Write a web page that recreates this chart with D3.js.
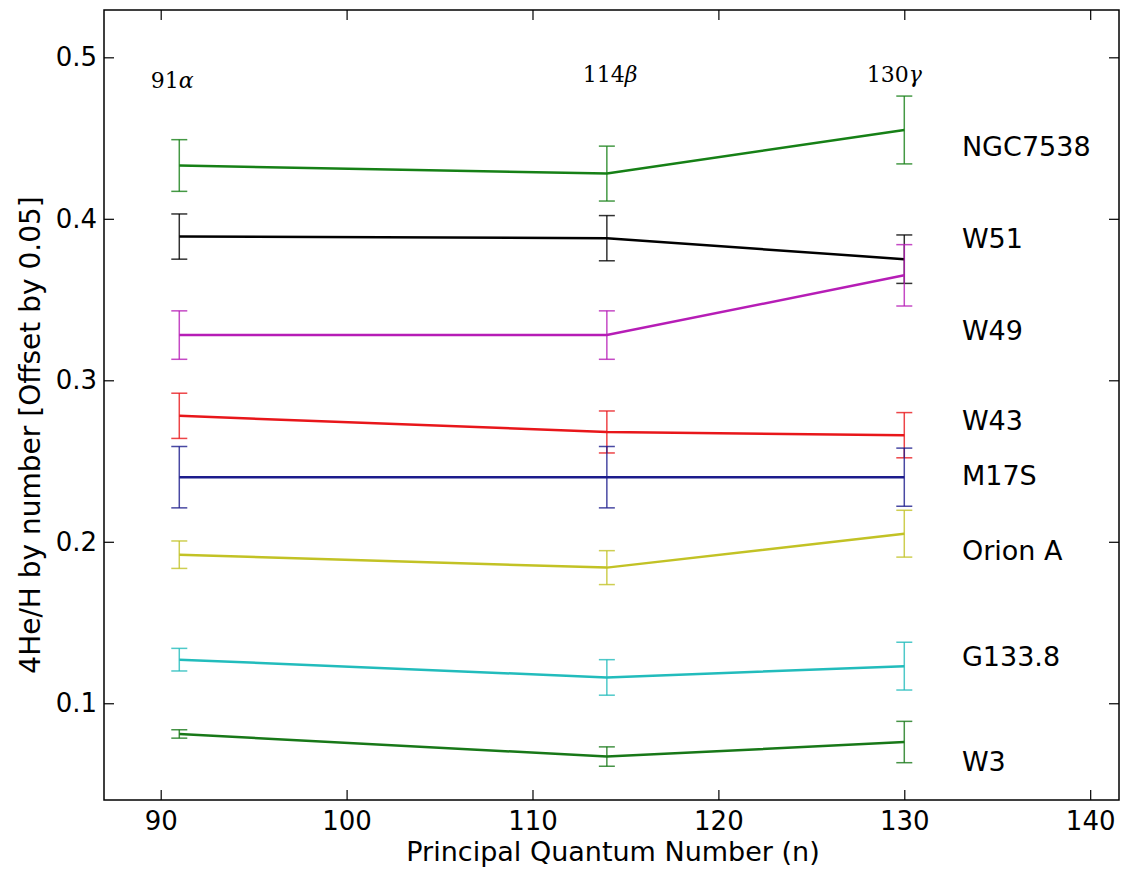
<!DOCTYPE html>
<html>
<head>
<meta charset="utf-8">
<script src="https://cdn.jsdelivr.net/npm/d3@7"></script>
<style>
  html, body { margin: 0; padding: 0; background: #fff; }
  svg { display: block; }
  .tick text { font-family: "DejaVu Sans", sans-serif; font-size: 26px; fill: #000; }
</style>
</head>
<body>
<svg id="chart" width="1121" height="870"></svg>
<script>
// Recombination-line transitions (principal quantum number) and their names
const quantumN = [91, 114, 130];
const transitionNumbers = ["91", "114", "130"];
const transitionGreek = ["α", "β", "γ"];

// HII regions, plotted top to bottom (each offset by 0.05)
const sources = ["NGC7538", "W51", "W49", "W43", "M17S", "Orion A", "G133.8", "W3"];

// 4He/H values at n = 91, 114, 130 for each source
const heNGC7538 = [0.433, 0.428, 0.455];
const heW51     = [0.389, 0.388, 0.375];
const heW49     = [0.328, 0.328, 0.365];
const heW43     = [0.278, 0.268, 0.266];
const heM17S    = [0.240, 0.240, 0.240];
const heOrionA  = [0.192, 0.184, 0.205];
const heG1338   = [0.127, 0.116, 0.123];
const heW3      = [0.081, 0.067, 0.076];

// one-sigma uncertainties
const errNGC7538 = [0.016, 0.017, 0.021];
const errW51     = [0.014, 0.014, 0.015];
const errW49     = [0.015, 0.015, 0.019];
const errW43     = [0.014, 0.013, 0.014];
const errM17S    = [0.019, 0.019, 0.018];
const errOrionA  = [0.0085, 0.0105, 0.0145];
const errG1338   = [0.007, 0.011, 0.0148];
const errW3      = [0.0026, 0.006, 0.0128];

// axis ticks
const xTicks = [90, 100, 110, 120, 130, 140];
const yTicks = [0.1, 0.2, 0.3, 0.4, 0.5];

const seriesValues = [heNGC7538, heW51, heW49, heW43, heM17S, heOrionA, heG1338, heW3];
const seriesErrors = [errNGC7538, errW51, errW49, errW43, errM17S, errOrionA, errG1338, errW3];

// ---- layout & styling ----
const colors = ["#168016", "#000000", "#b61db6", "#e8161a", "#1c1c8c", "#c2c225", "#22bcbc", "#187818"];
const nameY = [0.445, 0.3875, 0.331, 0.2748, 0.2408, 0.1946, 0.129, 0.064]; // name label heights (data units)
const nameX = 133.1;
const transX = [89.46, 112.7, 127.98];
const transY = [0.481, 0.4848, 0.4848];

const plot = { left: 104, right: 1119, top: 10, bottom: 800 };

const svg = d3.select("#chart");

const x = d3.scaleLinear().domain([86.95, 141.55]).range([plot.left, plot.right]);
const y = d3.scaleLinear().domain([0.0401, 0.5293]).range([plot.bottom, plot.top]);

const data = sources.map((name, i) => ({
  name,
  color: colors[i],
  labelY: nameY[i],
  points: quantumN.map((n, j) => ({ n, v: seriesValues[i][j], e: seriesErrors[i][j] }))
}));

// ---- axes (inward ticks on all four sides) ----
function styleAxis(g) {
  g.select(".domain").remove();
  g.selectAll(".tick line").attr("stroke", "#000").attr("stroke-width", 1.2);
}

svg.append("g")
  .attr("transform", `translate(0,${plot.bottom})`)
  .call(d3.axisBottom(x).tickValues(xTicks).tickFormat(d3.format("d")).tickSizeInner(-10).tickSizeOuter(0).tickPadding(12))
  .call(styleAxis);

svg.append("g")
  .attr("transform", `translate(0,${plot.top})`)
  .call(d3.axisTop(x).tickValues(xTicks).tickFormat("").tickSizeInner(-10).tickSizeOuter(0))
  .call(styleAxis);

svg.append("g")
  .attr("transform", `translate(${plot.left},0)`)
  .call(d3.axisLeft(y).tickValues(yTicks).tickFormat(d3.format(".1f")).tickSizeInner(-10).tickSizeOuter(0).tickPadding(7))
  .call(styleAxis);

svg.append("g")
  .attr("transform", `translate(${plot.right},0)`)
  .call(d3.axisRight(y).tickValues(yTicks).tickFormat("").tickSizeInner(-10).tickSizeOuter(0))
  .call(styleAxis);

svg.append("rect")
  .attr("x", plot.left).attr("y", plot.top)
  .attr("width", plot.right - plot.left).attr("height", plot.bottom - plot.top)
  .attr("fill", "none").attr("stroke", "#000").attr("stroke-width", 1.5);

// ---- series: lines with error bars ----
const line = d3.line().x(d => x(d.n)).y(d => y(d.v));
const capHalf = 8;

const series = svg.append("g").selectAll("g.series")
  .data(data).join("g").attr("class", "series");

series.each(function(s) {
  const g = d3.select(this);
  const bars = g.selectAll("g.err").data(s.points).join("g").attr("class", "err")
    .attr("stroke", s.color).attr("stroke-width", 1.5).attr("stroke-opacity", 0.8);
  bars.append("line")
    .attr("x1", d => x(d.n)).attr("x2", d => x(d.n))
    .attr("y1", d => y(d.v + d.e)).attr("y2", d => y(d.v - d.e));
  bars.append("line")
    .attr("x1", d => x(d.n) - capHalf).attr("x2", d => x(d.n) + capHalf)
    .attr("y1", d => y(d.v + d.e)).attr("y2", d => y(d.v + d.e));
  bars.append("line")
    .attr("x1", d => x(d.n) - capHalf).attr("x2", d => x(d.n) + capHalf)
    .attr("y1", d => y(d.v - d.e)).attr("y2", d => y(d.v - d.e));
  g.append("path")
    .attr("d", line(s.points))
    .attr("fill", "none").attr("stroke", s.color).attr("stroke-width", 2.5);
});

// ---- source names ----
svg.append("g").selectAll("text")
  .data(data).join("text")
  .attr("x", x(nameX))
  .attr("y", d => y(d.labelY))
  .attr("dominant-baseline", "central")
  .attr("font-family", "DejaVu Sans, sans-serif")
  .attr("font-size", 27)
  .text(d => d.name);

// ---- transition labels ----
const trans = svg.append("g").selectAll("text")
  .data(quantumN).join("text")
  .attr("x", (d, i) => x(transX[i]))
  .attr("y", (d, i) => y(transY[i]))
  .attr("font-family", "DejaVu Serif, serif")
  .attr("font-size", 22);
trans.append("tspan").text((d, i) => transitionNumbers[i]);
trans.append("tspan").attr("font-style", "italic").text((d, i) => transitionGreek[i]);

// ---- axis titles ----
svg.append("text")
  .attr("x", 613).attr("y", 861)
  .attr("text-anchor", "middle")
  .attr("font-family", "DejaVu Sans, sans-serif").attr("font-size", 27)
  .text("Principal Quantum Number (n)");

svg.append("text")
  .attr("transform", "translate(40,435) rotate(-90)")
  .attr("text-anchor", "middle")
  .attr("font-family", "DejaVu Sans, sans-serif").attr("font-size", 28)
  .text("4He/H by number [Offset by 0.05]");
</script>
</body>
</html>
